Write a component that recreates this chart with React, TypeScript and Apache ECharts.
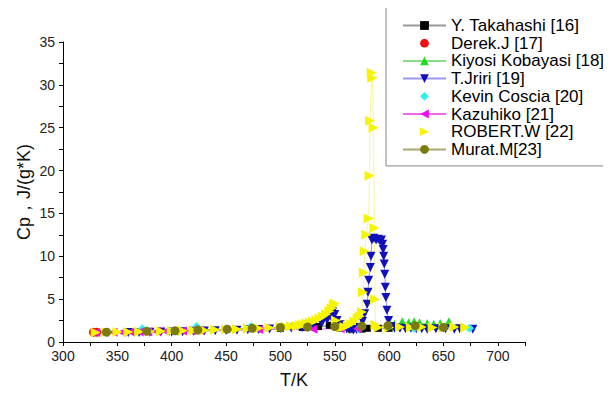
import React, { useEffect, useRef } from "react";
import * as echarts from "echarts";

// ---------- data ----------
const seriesNames = [
  "Y. Takahashi [16]",
  "Derek.J [17]",
  "Kiyosi Kobayasi [18]",
  "T.Jriri [19]",
  "Kevin Coscia [20]",
  "Kazuhiko [21]",
  "ROBERT.W [22]",
  "Murat.M[23]",
];

const takahashiT = [500, 520, 535, 545, 550, 555, 565, 575, 580, 590, 600];
const takahashiCp = [1.6, 1.7, 1.8, 1.95, 2.1, 1.6, 1.5, 1.5, 1.6, 1.6, 1.6];

const derekT = [328, 331];
const derekCp = [1.15, 1.15];

const kiyosiT = [605, 612, 618, 623, 628, 635, 641, 647, 655];
const kiyosiCp = [2.0, 2.3, 2.2, 2.3, 2.2, 2.1, 2.0, 2.1, 2.3];

const jririT = [
  360, 370, 380, 390, 400, 410, 420, 430, 440, 450, 460, 470, 480, 490, 500, 510, 520, 530, 538, 543, 546,
  548, 550, 552, 555, 558, 561, 564, 567, 570, 573, 575.5, 577.5, 579.8, 580.6, 581.2, 582.7, 583.3, 584.2,
  586, 588, 590, 591.5, 593, 594, 594.5, 595, 595.5, 596, 596.5, 597, 598, 599.5, 602, 605, 610, 615, 620,
  625, 630, 635, 643, 652, 660, 665, 677,
];
const jririCp = [
  1.1, 1.12, 1.14, 1.16, 1.18, 1.21, 1.24, 1.27, 1.3, 1.34, 1.38, 1.42, 1.47, 1.52, 1.57, 1.63, 1.7, 1.9, 2.2,
  2.6, 3.0, 3.5, 3.2, 2.5, 2.0, 1.7, 1.55, 1.45, 1.4, 1.45, 1.7, 2.4, 3.3, 4.4, 5.8, 7.2, 8.7, 10.0, 11.9,
  12.1, 11.9, 12.0, 11.8, 11.9, 11.4, 10.8, 10.0, 9.1, 7.9, 6.4, 5.2, 3.7, 2.5, 1.8, 1.6, 1.6, 1.55, 1.6,
  1.55, 1.55, 1.5, 1.55, 1.55, 1.5, 1.55, 1.5,
];

const kevinT = [373, 423, 473, 523, 572, 623, 674];
const kevinCp = [1.55, 1.8, 1.8, 1.85, 1.55, 1.6, 1.6];

const kazuhikoT = [330, 338, 346, 354, 362, 370, 378, 386, 394, 402, 410, 418, 426, 480, 530, 555, 571];
const kazuhikoCp = [1.12, 1.13, 1.14, 1.15, 1.17, 1.18, 1.2, 1.22, 1.24, 1.26, 1.28, 1.3, 1.33, 1.45, 1.5, 1.55, 1.55];

const robertT = [
  330, 340, 350, 360, 370, 380, 390, 400, 410, 420, 430, 440, 450, 460, 470, 480, 490, 500, 505, 510, 515,
  518, 521, 524, 527, 530, 533, 536, 539, 542, 545, 547, 549, 550, 551, 553, 556, 559, 562, 565, 568, 571,
  573, 575, 576, 576.8, 577.5, 579, 581.2, 582, 582.5, 584, 584.5, 585.7, 586.4, 587, 587.5, 590, 600, 610,
  620, 630, 640, 650, 660, 670,
];
const robertCp = [
  1.12, 1.14, 1.16, 1.18, 1.2, 1.23, 1.25, 1.28, 1.31, 1.34, 1.38, 1.42, 1.46, 1.5, 1.55, 1.6, 1.66, 1.74,
  1.78, 1.83, 1.9, 1.97, 2.05, 2.15, 2.27, 2.4, 2.55, 2.75, 2.98, 3.25, 3.6, 3.9, 4.3, 4.5, 2.5, 1.8, 1.7,
  1.75, 1.9, 2.1, 2.4, 2.8, 3.0, 3.5, 5.8, 8.1, 10.6, 12.5, 14.4, 19.4, 25.8, 31.4, 30.8, 25.0, 13.3, 5.0,
  2.0, 1.7, 1.7, 1.75, 1.7, 1.75, 1.7, 1.7, 1.75, 1.7,
];

const muratT = [340, 377, 403, 424, 451, 474, 500, 525, 550, 575, 599, 624, 650];
const muratCp = [1.15, 1.25, 1.3, 1.4, 1.5, 1.6, 1.7, 1.75, 1.8, 1.85, 1.9, 1.9, 1.7];

const xTicks = [300, 350, 400, 450, 500, 550, 600, 650, 700];
const yTicks = [0, 5, 10, 15, 20, 25, 30, 35];

const zip = (xs: number[], ys: number[]) => xs.map((x, i) => [x, ys[i]]);

export default function App() {
  const ref = useRef<HTMLDivElement>(null);
  useEffect(() => {
    if (!ref.current) return;
    const chart = echarts.init(ref.current, null, { renderer: "svg" });
    const font = "'Liberation Sans', Arial, sans-serif";

    const mk = (
      name: string,
      xs: number[],
      ys: number[],
      symbol: string,
      color: string,
      lineColor: string | null,
      size: number,
      rotate = 0
    ) => ({
      name,
      type: "line",
      data: zip(xs, ys),
      symbol,
      symbolSize: size,
      symbolRotate: rotate,
      showAllSymbol: true,
      itemStyle: { color, borderWidth: 0 },
      lineStyle: lineColor ? { color: lineColor, width: 1 } : { width: 0, color: "rgba(0,0,0,0)" },
      emphasis: { disabled: true },
    });

    chart.setOption({
      animation: false,
      backgroundColor: "#fff",
      grid: { left: 63, top: 42, width: 462, height: 303 },
      legend: {
        orient: "vertical",
        left: 386,
        top: 4,
        padding: [13, 3, 8, 16],
        itemWidth: 43,
        itemHeight: 11,
        itemGap: 0.7,
        backgroundColor: "#fff",
        borderColor: "#888",
        borderWidth: 1,
        textStyle: { fontFamily: font, fontSize: 17, color: "#000" },
        data: seriesNames.map((n) =>
          n === "ROBERT.W [22]" ? { name: n, lineStyle: { opacity: 0 } } : { name: n }
        ),
      },
      xAxis: {
        type: "value",
        min: 300,
        max: 725,
        interval: 25,
        name: "T/K",
        nameLocation: "middle",
        nameGap: 29,
        nameMoveOverlap: false,
        nameTextStyle: { fontFamily: font, fontSize: 18, color: "#111" },
        axisLine: { show: true, onZero: false, lineStyle: { color: "#000", width: 1 } },
        axisTick: { show: true, length: 4, lineStyle: { color: "#000" } },
        axisLabel: {
          fontFamily: font,
          fontSize: 14,
          color: "#222",
          margin: 7,
          formatter: (v: number) => (xTicks.includes(v) ? String(v) : ""),
        },
        splitLine: { show: false },
      },
      yAxis: {
        type: "value",
        min: 0,
        max: 35,
        interval: 2.5,
        name: "Cp，J/(g*K)",
        nameLocation: "middle",
        nameGap: 30,
        nameMoveOverlap: false,
        nameTextStyle: { fontFamily: font, fontSize: 18, color: "#111" },
        axisLine: { show: true, lineStyle: { color: "#000", width: 1 } },
        axisTick: { show: true, length: 4, lineStyle: { color: "#000" } },
        axisLabel: {
          fontFamily: font,
          fontSize: 14,
          color: "#222",
          margin: 8,
          formatter: (v: number) => (yTicks.includes(v) ? String(v) : ""),
        },
        splitLine: { show: false },
      },
      series: [
        mk(seriesNames[0], takahashiT, takahashiCp, "rect", "#000000", "#9a9a9a", 7),
        mk(seriesNames[1], derekT, derekCp, "circle", "#ee1111", null, 9),
        mk(seriesNames[2], kiyosiT, kiyosiCp, "triangle", "#22dd22", "#88dd88", 10),
        mk(seriesNames[3], jririT, jririCp, "triangle", "#1111bb", "#9999ee", 9, 180),
        mk(seriesNames[4], kevinT, kevinCp, "diamond", "#33eeee", null, 9),
        mk(seriesNames[5], kazuhikoT, kazuhikoCp, "triangle", "#ee11ee", "#ee66ee", 9, 90),
        mk(seriesNames[6], robertT, robertCp, "triangle", "#f5f500", "#f5f5a0", 10, -90),
        mk(seriesNames[7], muratT, muratCp, "circle", "#7a7a10", "#a8a870", 9),
      ],
    });
    return () => chart.dispose();
  }, []);
  return <div ref={ref} style={{ width: 611, height: 394, margin: -8 }} />;
}
